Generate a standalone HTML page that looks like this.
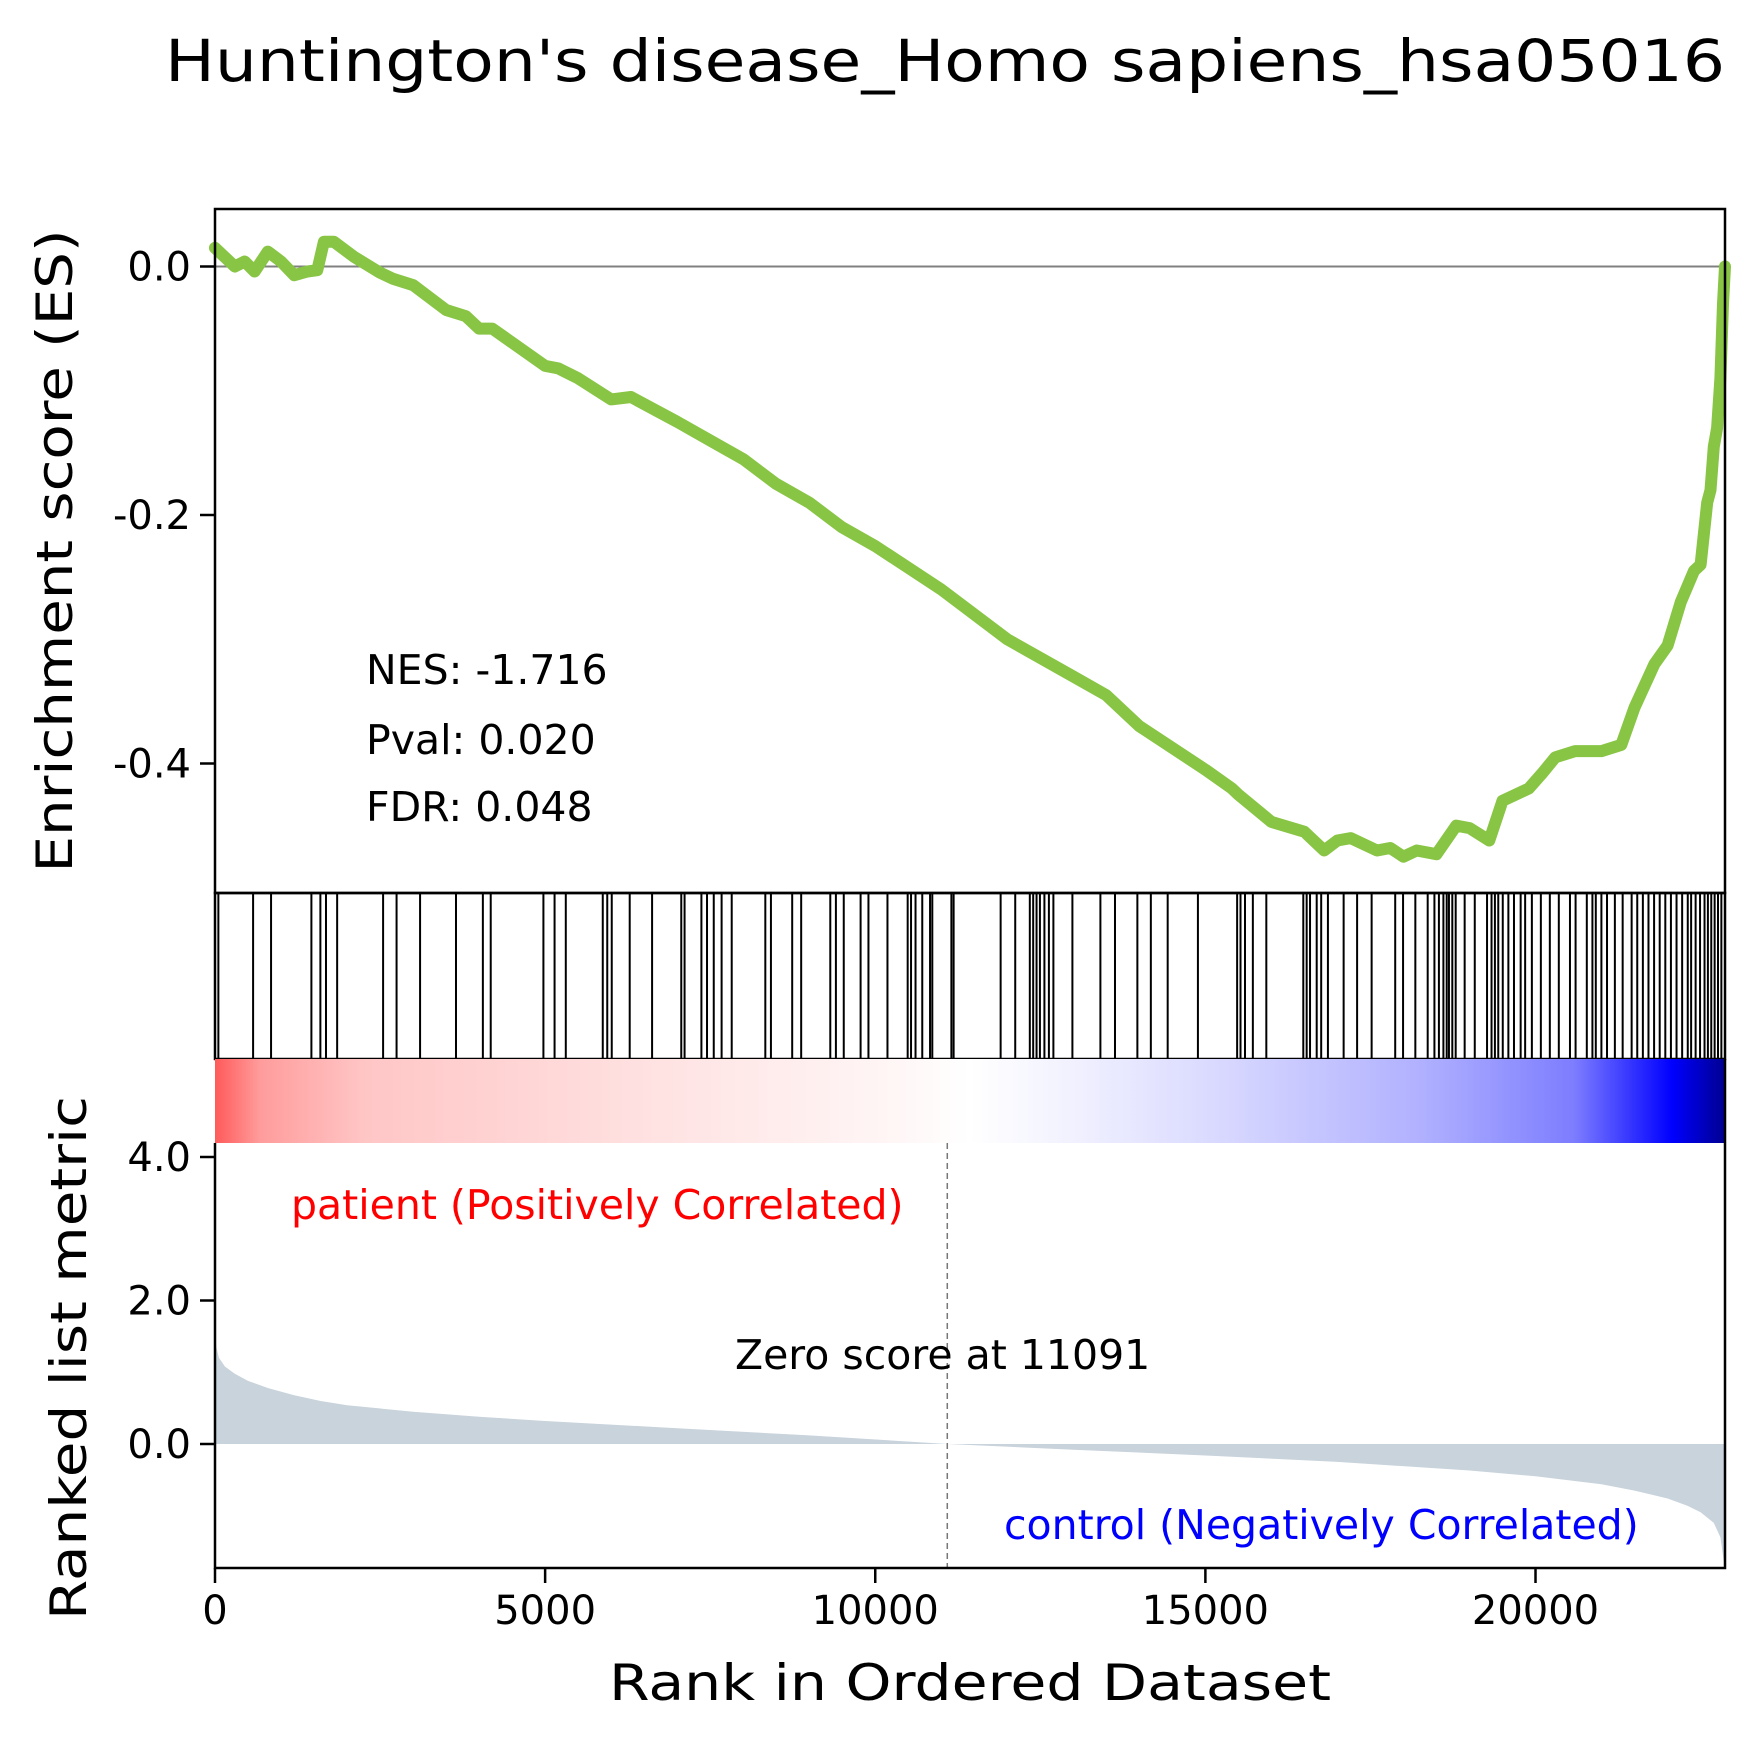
<!DOCTYPE html>
<html><head><meta charset="utf-8">
<style>
html,body{margin:0;padding:0;background:#fff;}
svg{display:block;font-family:"DejaVu Sans","Liberation Sans",sans-serif;}
</style></head>
<body>
<svg id="chart" width="1758" height="1743" viewBox="0 0 1758 1743" xmlns="http://www.w3.org/2000/svg">
<defs>
<linearGradient id="cbar" x1="0" x2="1" y1="0" y2="0">
<stop offset="0" stop-color="#ff5a5a"/>
<stop offset="0.03" stop-color="#ff9c9c"/>
<stop offset="0.1" stop-color="#ffc6c6"/>
<stop offset="0.3" stop-color="#ffe3e3"/>
<stop offset="0.45" stop-color="#fff6f6"/>
<stop offset="0.5" stop-color="#ffffff"/>
<stop offset="0.56" stop-color="#f3f3ff"/>
<stop offset="0.66" stop-color="#dadaff"/>
<stop offset="0.8" stop-color="#b0b0ff"/>
<stop offset="0.9" stop-color="#7d7dff"/>
<stop offset="0.965" stop-color="#0000ff"/>
<stop offset="1" stop-color="#000090"/>
</linearGradient>
</defs>
<text x="945" y="81" text-anchor="middle" font-size="58" textLength="1560" lengthAdjust="spacingAndGlyphs">Huntington's disease_Homo sapiens_hsa05016</text>
<g id="es"></g>
<g id="hits"></g>
<rect x="215" y="1059" width="1510" height="84" fill="url(#cbar)"/>
<g id="rk"></g>
<text transform="translate(72,551) rotate(-90)" text-anchor="middle" font-size="50" textLength="643" lengthAdjust="spacingAndGlyphs">Enrichment score (ES)</text>
<text transform="translate(86,1358) rotate(-90)" text-anchor="middle" font-size="50" textLength="524" lengthAdjust="spacingAndGlyphs">Ranked list metric</text>
<text x="970" y="1700" text-anchor="middle" font-size="50" textLength="722" lengthAdjust="spacingAndGlyphs">Rank in Ordered Dataset</text>
<text x="366" y="684" font-size="41">NES: -1.716</text>
<text x="366" y="754" font-size="41">Pval: 0.020</text>
<text x="366" y="821" font-size="41">FDR: 0.048</text>
<text x="291" y="1219" font-size="41" fill="#ff0000">patient (Positively Correlated)</text>
<text x="735" y="1369" font-size="41">Zero score at 11091</text>
<text x="1004" y="1539" font-size="41" fill="#0000ff">control (Negatively Correlated)</text>
</svg>
<script>
const N = 22870;
const zeroRank = 11091;
const esRanks = [0,300,450,600,800,1000,1200,1400,1550,1650,1800,2100,2500,2700,3000,3500,3800,4000,4200,5000,5200,5500,6000,6300,7000,7500,8000,8500,9000,9500,10000,11000,12000,13000,13500,14000,15000,15400,15500,16000,16500,16800,17000,17200,17600,17800,18000,18200,18500,18800,19000,19300,19500,19900,20100,20300,20600,21000,21300,21500,21800,22000,22200,22400,22500,22600,22650,22700,22750,22800,22840,22870];
const esValues = [0.015,0.0,0.004,-0.004,0.012,0.004,-0.007,-0.004,-0.003,0.02,0.02,0.008,-0.005,-0.01,-0.015,-0.035,-0.04,-0.05,-0.05,-0.08,-0.082,-0.09,-0.107,-0.105,-0.125,-0.14,-0.155,-0.175,-0.19,-0.21,-0.225,-0.26,-0.3,-0.33,-0.345,-0.37,-0.405,-0.42,-0.425,-0.447,-0.455,-0.47,-0.462,-0.46,-0.47,-0.468,-0.475,-0.47,-0.473,-0.45,-0.452,-0.462,-0.43,-0.42,-0.408,-0.395,-0.39,-0.39,-0.385,-0.355,-0.32,-0.305,-0.27,-0.245,-0.24,-0.19,-0.18,-0.145,-0.13,-0.09,-0.03,0.0];
const hitRanks = [51,577,849,1460,1596,1681,1850,2546,2750,3106,3650,4057,4176,4974,5143,5313,5873,5941,6009,6281,6620,7062,7112,7367,7452,7554,7673,7826,8335,8420,8742,8878,9319,9404,9523,9778,9897,10185,10491,10542,10610,10712,10830,10864,11153,11187,11899,12120,12341,12392,12443,12494,12562,12630,12698,12986,13410,13631,13970,14174,14429,14887,15481,15532,15600,15719,15923,16483,16534,16585,16686,16754,16856,17094,17298,17518,17875,17994,18180,18367,18469,18537,18605,18655,18689,18740,18791,18927,19080,19266,19334,19385,19436,19504,19589,19674,19775,19843,19945,20081,20217,20353,20522,20607,20777,20862,20913,20998,21083,21202,21320,21456,21541,21626,21711,21796,21881,21966,22051,22136,22221,22306,22357,22425,22492,22560,22611,22662,22713,22764,22815];
const metricRanks = [0,20,60,150,300,500,800,1200,1600,2000,3000,4000,5000,7000,9000,11091,13000,15000,17000,19000,20000,21000,21500,22000,22300,22500,22700,22800,22870];
const metricValues = [1.6,1.35,1.2,1.08,0.98,0.88,0.78,0.68,0.6,0.54,0.45,0.38,0.32,0.22,0.12,0.0,-0.08,-0.16,-0.25,-0.37,-0.45,-0.56,-0.65,-0.76,-0.86,-0.95,-1.1,-1.3,-1.75];
const esTicks = [0.0,-0.2,-0.4];
const esTickLabels = ["0.0","-0.2","-0.4"];
const rkTicks = [4.0,2.0,0.0];
const rkTickLabels = ["4.0","2.0","0.0"];
const xTicks = [0,5000,10000,15000,20000];
const xTickLabels = ["0","5000","10000","15000","20000"];

const NS = "http://www.w3.org/2000/svg";
const L = 215, R = 1725;
const X = r => L + (R - L) * r / N;
const ESY = v => 266.5 - v * 1242.5;
const RKY = v => 1444 - v * 71.75;
function mk(tag, attrs, parent){ const e = document.createElementNS(NS, tag); for (const k in attrs) e.setAttribute(k, attrs[k]); parent.appendChild(e); return e; }

const es = document.getElementById('es');
const hits = document.getElementById('hits');
const rk = document.getElementById('rk');

let zl = mk('line', {x1:L, x2:R, y1:ESY(0), y2:ESY(0), stroke:'#808080', 'stroke-width':2}, es);


let d = esRanks.map((r,i)=>(i?'L':'M')+X(r).toFixed(1)+','+ESY(esValues[i]).toFixed(1)).join('');
let esl = mk('path', {d:d, fill:'none', stroke:'#88c544', 'stroke-width':12, 'stroke-linejoin':'round', 'stroke-linecap':'round'}, es);


esTicks.forEach((t,i)=>{
  const y = ESY(t);
  const tk = mk('line', {x1:L-15, x2:L, y1:y, y2:y, stroke:'#000', 'stroke-width':2.5}, es);
  
  
  const tx = mk('text', {x:L-24, y:y+14, 'text-anchor':'end', 'font-size':40}, es);
  tx.textContent = esTickLabels[i];
  
  
});
let fr = mk('rect', {x:L, y:209, width:R-L, height:684, fill:'none', stroke:'#000', 'stroke-width':2.5}, es);



hitRanks.forEach(r=>{
  const h = mk('line', {x1:X(r), x2:X(r), y1:893, y2:1059, stroke:'#000', 'stroke-width':2}, hits);
  
  
});
let hf = mk('rect', {x:L, y:893, width:R-L, height:166, fill:'none', stroke:'#000', 'stroke-width':2.5}, hits);



let md = 'M'+X(0)+','+RKY(0)+metricRanks.map((r,i)=>'L'+X(r).toFixed(1)+','+RKY(metricValues[i]).toFixed(1)).join('')+'L'+X(N)+','+RKY(0)+'Z';
let ma = mk('path', {d:md, fill:'#c9d3dc', stroke:'none'}, rk);


let dl = mk('line', {x1:X(zeroRank), x2:X(zeroRank), y1:1143, y2:1568, stroke:'#777', 'stroke-width':1.5, 'stroke-dasharray':'6,4'}, rk);


rkTicks.forEach((t,i)=>{
  const y = RKY(t);
  const tk = mk('line', {x1:L-15, x2:L, y1:y, y2:y, stroke:'#000', 'stroke-width':2.5}, rk);
  
  
  const tx = mk('text', {x:L-24, y:y+14, 'text-anchor':'end', 'font-size':40}, rk);
  tx.textContent = rkTickLabels[i];
  
  
});
xTicks.forEach((t,i)=>{
  const x = X(t);
  const tk = mk('line', {x1:x, x2:x, y1:1568, y2:1583, stroke:'#000', 'stroke-width':2.5}, rk);
  
  
  const tx = mk('text', {x:x, y:1624, 'text-anchor':'middle', 'font-size':40}, rk);
  tx.textContent = xTickLabels[i];
  
  
});
let ax = mk('path', {d:'M'+L+',1143L'+L+',1568L'+R+',1568L'+R+',1059', fill:'none', stroke:'#000', 'stroke-width':2.5}, rk);


</script>
</body></html>
